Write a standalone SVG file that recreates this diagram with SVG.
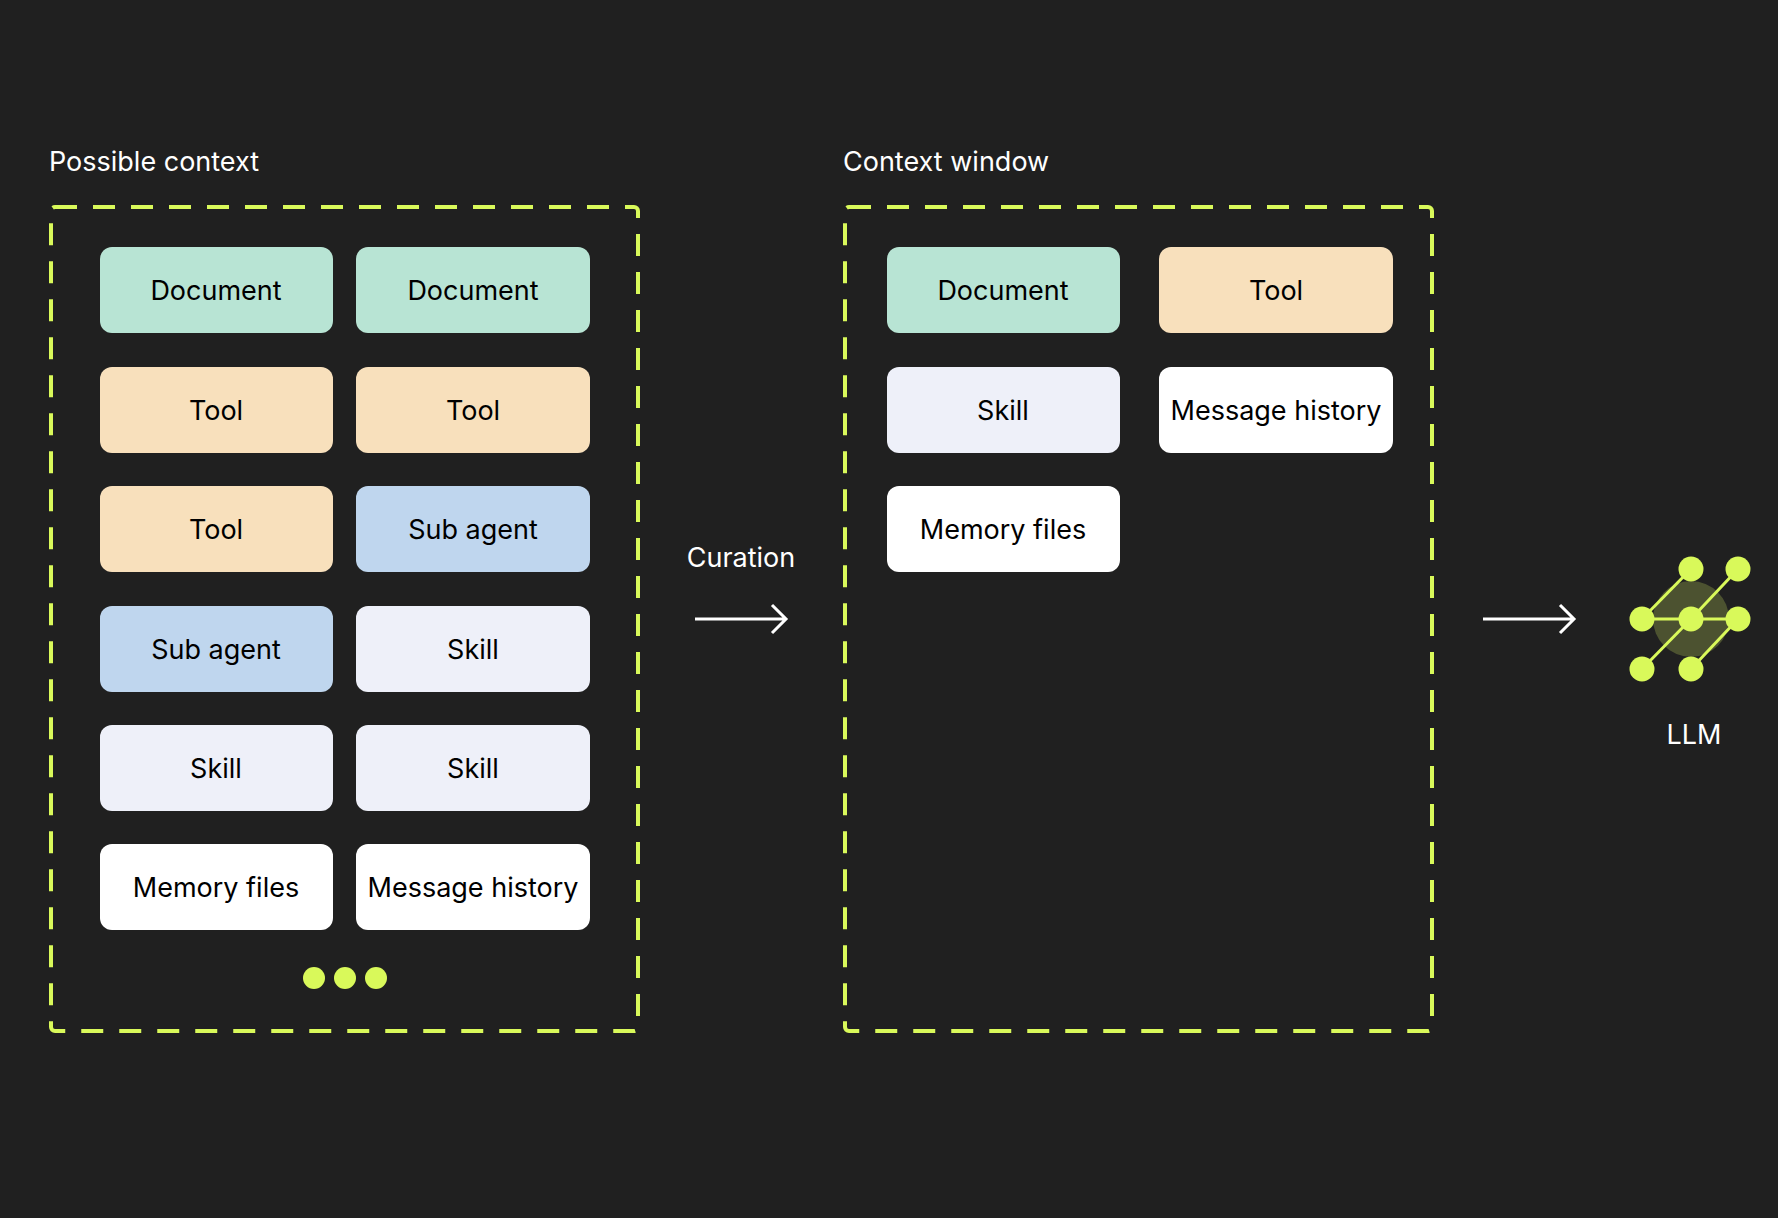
<svg xmlns="http://www.w3.org/2000/svg" width="1778" height="1218" viewBox="0 0 1778 1218">
<style>
.t{font-family:Inter,"Liberation Sans",sans-serif;font-size:27px;fill:#000;text-anchor:middle;dominant-baseline:central}
.w{font-family:Inter,"Liberation Sans",sans-serif;font-size:27px;fill:#fff}
.doc{fill:#b8e4d4}.tool{fill:#f8e0bc}.sub{fill:#bfd6ee}.skill{fill:#eef0f9}.wh{fill:#fff}
.frame{fill:none;stroke:#d9f95a;stroke-width:4;stroke-dasharray:22 16}
.ar{fill:none;stroke:#fff;stroke-width:3}
.g{fill:#d9f95a}
</style>
<rect width="1778" height="1218" fill="#202020"/>
<text class="w" x="49" y="171">Possible context</text>
<text class="w" x="843" y="171">Context window</text>
<rect id="frame-left" class="frame" x="51" y="207" width="587" height="824" rx="4"/>
<rect id="frame-right" class="frame" x="845" y="207" width="587" height="824" rx="4"/>
<g id="n1"><rect class="doc" x="100" y="247" width="233" height="86" rx="12"/><text class="t" x="216" y="290">Document</text></g>
<g id="n2"><rect class="doc" x="356" y="247" width="234" height="86" rx="12"/><text class="t" x="473" y="290">Document</text></g>
<g id="n3"><rect class="tool" x="100" y="367" width="233" height="86" rx="12"/><text class="t" x="216" y="410">Tool</text></g>
<g id="n4"><rect class="tool" x="356" y="367" width="234" height="86" rx="12"/><text class="t" x="473" y="410">Tool</text></g>
<g id="n5"><rect class="tool" x="100" y="486" width="233" height="86" rx="12"/><text class="t" x="216" y="529">Tool</text></g>
<g id="n6"><rect class="sub" x="356" y="486" width="234" height="86" rx="12"/><text class="t" x="473" y="529">Sub agent</text></g>
<g id="n7"><rect class="sub" x="100" y="606" width="233" height="86" rx="12"/><text class="t" x="216" y="649">Sub agent</text></g>
<g id="n8"><rect class="skill" x="356" y="606" width="234" height="86" rx="12"/><text class="t" x="473" y="649">Skill</text></g>
<g id="n9"><rect class="skill" x="100" y="725" width="233" height="86" rx="12"/><text class="t" x="216" y="768">Skill</text></g>
<g id="n10"><rect class="skill" x="356" y="725" width="234" height="86" rx="12"/><text class="t" x="473" y="768">Skill</text></g>
<g id="n11"><rect class="wh" x="100" y="844" width="233" height="86" rx="12"/><text class="t" x="216" y="887">Memory files</text></g>
<g id="n12"><rect class="wh" x="356" y="844" width="234" height="86" rx="12"/><text class="t" x="473" y="887">Message history</text></g>
<g id="more"><circle class="g" cx="314" cy="978" r="11"/><circle class="g" cx="345" cy="978" r="11"/><circle class="g" cx="376" cy="978" r="11"/></g>
<g id="r1"><rect class="doc" x="887" y="247" width="233" height="86" rx="12"/><text class="t" x="1003" y="290">Document</text></g>
<g id="r2"><rect class="tool" x="1159" y="247" width="234" height="86" rx="12"/><text class="t" x="1276" y="290">Tool</text></g>
<g id="r3"><rect class="skill" x="887" y="367" width="233" height="86" rx="12"/><text class="t" x="1003" y="410">Skill</text></g>
<g id="r4"><rect class="wh" x="1159" y="367" width="234" height="86" rx="12"/><text class="t" x="1276" y="410">Message history</text></g>
<g id="r5"><rect class="wh" x="887" y="486" width="233" height="86" rx="12"/><text class="t" x="1003" y="529">Memory files</text></g>
<g id="connectors">
<path class="ar" d="M695 619H786M772 605L786 619L772 633"/>
<path class="ar" d="M1483 619H1574M1560 605L1574 619L1560 633"/>
<text class="w" x="741" y="567" text-anchor="middle">Curation</text>
</g>
<g id="llm">
<circle cx="1691" cy="619" r="38" fill="#4c5230"/>
<g stroke="#d9f95a" stroke-width="3">
<line x1="1642" y1="619" x2="1738" y2="619"/>
<line x1="1642" y1="619" x2="1691" y2="569"/>
<line x1="1691" y1="619" x2="1738" y2="569"/>
<line x1="1642" y1="669" x2="1691" y2="619"/>
<line x1="1691" y1="669" x2="1738" y2="619"/>
</g>
<circle class="g" cx="1691" cy="569" r="12.5"/><circle class="g" cx="1738" cy="569" r="12.5"/>
<circle class="g" cx="1642" cy="619" r="12.5"/><circle class="g" cx="1691" cy="619" r="12.5"/><circle class="g" cx="1738" cy="619" r="12.5"/>
<circle class="g" cx="1642" cy="669" r="12.5"/><circle class="g" cx="1691" cy="669" r="12.5"/>
<text class="w" x="1694" y="744" text-anchor="middle">LLM</text>
</g>
</svg>
